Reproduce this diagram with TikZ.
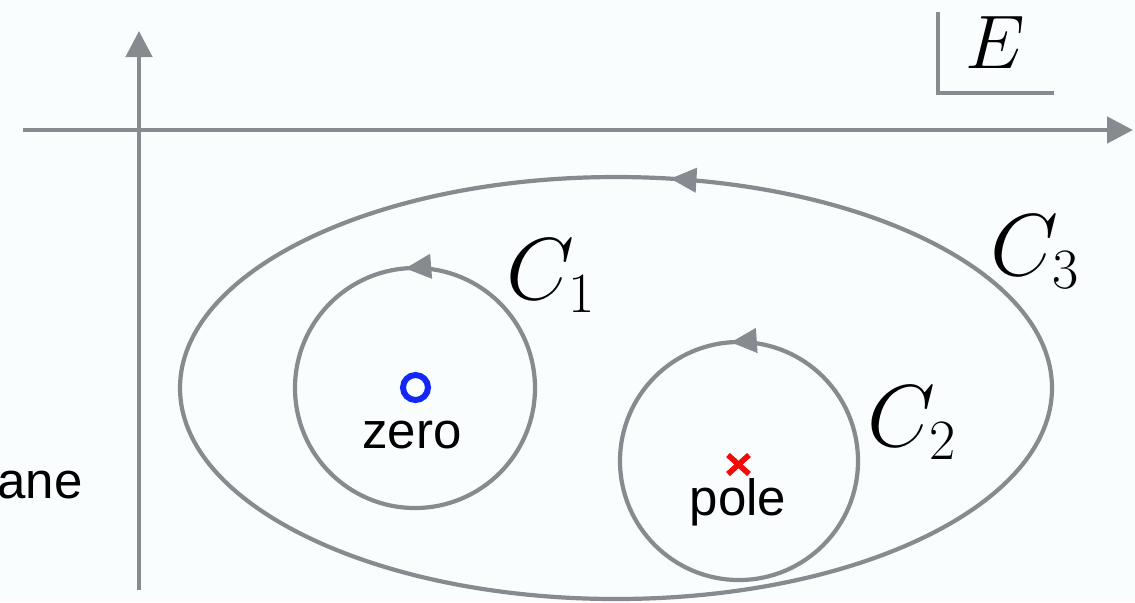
\RequirePackage{fix-cm}
\documentclass[tikz,border=0pt]{standalone}
\usepackage{fontspec}
\newfontfamily\lsans{Liberation Sans}
\usetikzlibrary{arrows.meta,decorations.markings}
\DeclareMathSizes{44}{44}{28.5}{21}
\definecolor{axgray}{RGB}{135,138,142}
\definecolor{bgc}{RGB}{250,253,253}
\definecolor{zblue}{RGB}{20,40,245}
\definecolor{pred}{RGB}{240,10,10}
\tikzset{
  axis/.style={draw=axgray,line width=2.3pt,-{Triangle[length=13pt,width=13pt]}},
  contour/.style={draw=axgray,line width=2.1pt},
  tip/.style={postaction={decorate,decoration={markings,
     mark=at position #1 with {\arrow{Triangle[length=13pt,width=12pt]}}}}},
  mathlbl/.style={font=\fontsize{44}{46}\selectfont,inner sep=0pt},
  elbl/.style={font=\fontsize{38}{42}\selectfont,inner sep=0pt},
  txtlbl/.style={font=\lsans\fontsize{25.5}{28}\selectfont,inner sep=0pt}
}
\begin{document}
\begin{tikzpicture}[x=0.5pt,y=-0.5pt]
\useasboundingbox (0,0) rectangle (1135,602);
\fill[bgc] (0,0) rectangle (1135,602);
% axes
\coordinate (hx0) at (23,130);
\coordinate (hx1) at (1133,130);
\coordinate (vy0) at (139,590);
\coordinate (vy1) at (139,31);
\draw[axis] (hx0) -- (hx1);
\draw[axis] (vy0) -- (vy1);
% E corner
\coordinate (e0) at (938,12);
\coordinate (e1) at (938,93);
\coordinate (e2) at (1054,93);
\draw[draw=axgray,line width=2.3pt] (e0) -- (e1) -- (e2);
\node[elbl] (E) at (995,43) {$E$};
% contours
\coordinate (c3) at (616,388);
\coordinate (c1) at (415,388);
\coordinate (c2) at (739,461);
\draw[contour,tip=0.224] (c3) ellipse [x radius=218pt, y radius=105.5pt];
\draw[contour,tip=0.263] (c1) circle [radius=60pt];
\draw[contour,tip=0.261] (c2) circle [radius=59.5pt];
\node[mathlbl] (C1) at (551,276) {$C_1$};
\node[mathlbl] (C2) at (912,423) {$C_2$};
\node[mathlbl] (C3) at (1035,252) {$C_3$};
% zero and pole
\node[draw=zblue,line width=3pt,circle,minimum size=12.5pt,inner sep=0pt] (zero) at (415.5,387.5) {};
\node[txtlbl,anchor=base] (zerotxt) at (412,448) {zero};
\coordinate (pa) at (728,455);
\coordinate (pb) at (749,474);
\coordinate (pc) at (728,474);
\coordinate (pd) at (749,455);
\draw[pred,line width=2.8pt] (pa) -- (pb) (pc) -- (pd);
\node[txtlbl,anchor=base] (poletxt) at (738,515) {pole};
\node[txtlbl,anchor=base east] (ane) at (83,498) {ane};
\end{tikzpicture}
\end{document}
